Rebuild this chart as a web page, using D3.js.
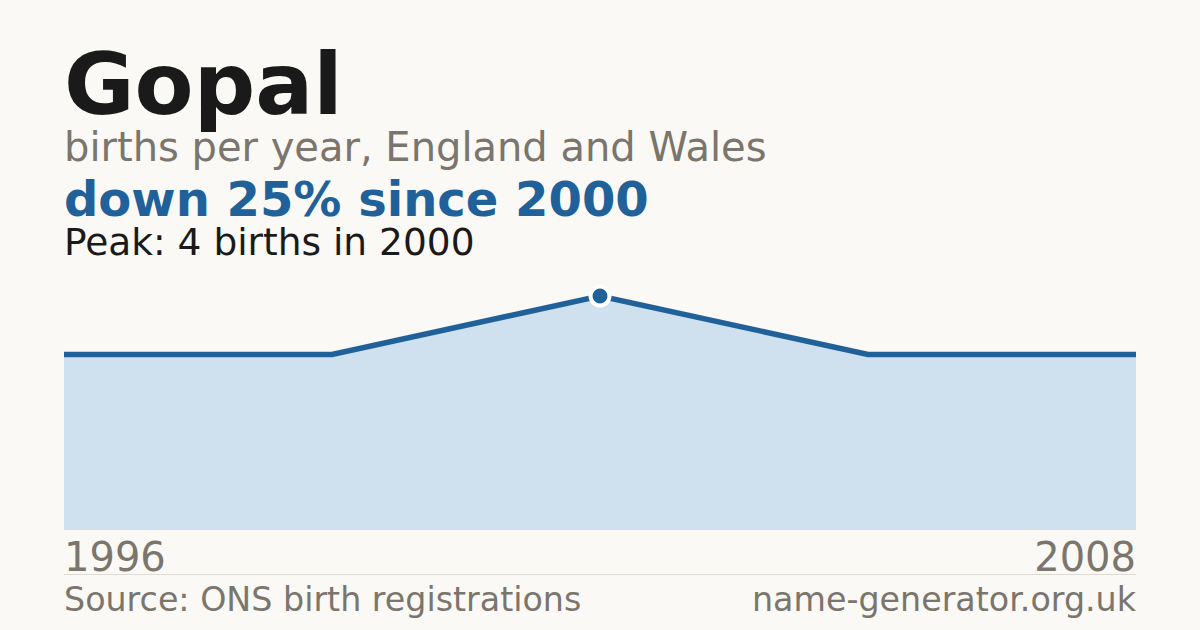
<!DOCTYPE html>
<html>
<head>
<meta charset="utf-8">
<script src="https://cdn.jsdelivr.net/npm/d3@7"></script>
<style>
  html, body { margin: 0; padding: 0; background: #faf9f5; }
  svg { display: block; font-family: "DejaVu Sans", sans-serif; }
</style>
</head>
<body>
<script>
const years = [1996, 1998, 2000, 2004, 2008];
const births = [3, 3, 4, 3, 3];
const axisLabels = ["1996", "2008"];

const width = 1200;
const height = 630;
const left = 64;
const right = 1136;
const baseY = 530;
const topY = 296;

const blue = "#21619a";
const grey = "#7a756d";
const ink = "#1a1a1a";

const data = years.map((y, i) => ({ year: y, value: births[i] }));

const svg = d3
  .select("body")
  .append("svg")
  .attr("width", width)
  .attr("height", height)
  .style("background", "#faf9f5");

svg.append("text")
  .attr("x", left).attr("y", 114)
  .attr("font-size", "86px").attr("font-weight", "bold")
  .attr("fill", ink)
  .text("Gopal");

svg.append("text")
  .attr("x", left).attr("y", 161)
  .attr("font-size", "40px")
  .attr("fill", grey)
  .text("births per year, England and Wales");

svg.append("text")
  .attr("x", left).attr("y", 216)
  .attr("font-size", "48px").attr("font-weight", "bold")
  .attr("fill", blue)
  .text("down 25% since 2000");

svg.append("text")
  .attr("x", left).attr("y", 255)
  .attr("font-size", "37.5px")
  .attr("fill", ink)
  .text("Peak: 4 births in 2000");

const xScale = d3.scalePoint().domain(years).range([left, right]);
const yScale = d3
  .scaleLinear()
  .domain([0, d3.max(births)])
  .range([baseY, topY]);

const area = d3.area()
  .x((d) => xScale(d.year))
  .y0(baseY)
  .y1((d) => yScale(d.value));

const line = d3.line()
  .x((d) => xScale(d.year))
  .y((d) => yScale(d.value));

svg.append("path")
  .datum(data)
  .attr("d", area)
  .attr("fill", "#cfe0ef");

svg.append("path")
  .datum(data)
  .attr("d", line)
  .attr("fill", "none")
  .attr("stroke", blue)
  .attr("stroke-width", 5.5);

// peak marker
const peak = data.reduce((a, b) => (b.value > a.value ? b : a));
svg.append("circle")
  .attr("cx", xScale(peak.year))
  .attr("cy", yScale(peak.value))
  .attr("r", 9.5)
  .attr("fill", blue)
  .attr("stroke", "#ffffff")
  .attr("stroke-width", 4);

// year labels at the ends
svg.append("text")
  .attr("x", xScale(years[0])).attr("y", 571)
  .attr("font-size", "40px").attr("fill", grey)
  .text(axisLabels[0]);

svg.append("text")
  .attr("x", xScale(years[years.length - 1])).attr("y", 571)
  .attr("text-anchor", "end")
  .attr("font-size", "40px").attr("fill", grey)
  .text(axisLabels[1]);

svg.append("line")
  .attr("x1", left).attr("x2", right)
  .attr("y1", 574.5).attr("y2", 574.5)
  .attr("stroke", "#dddad3").attr("stroke-width", 1);

svg.append("text")
  .attr("x", left).attr("y", 611)
  .attr("font-size", "33.3px").attr("fill", grey)
  .text("Source: ONS birth registrations");

svg.append("text")
  .attr("x", right).attr("y", 611)
  .attr("text-anchor", "end")
  .attr("font-size", "33.3px").attr("fill", grey)
  .text("name-generator.org.uk");
</script>
</body>
</html>
